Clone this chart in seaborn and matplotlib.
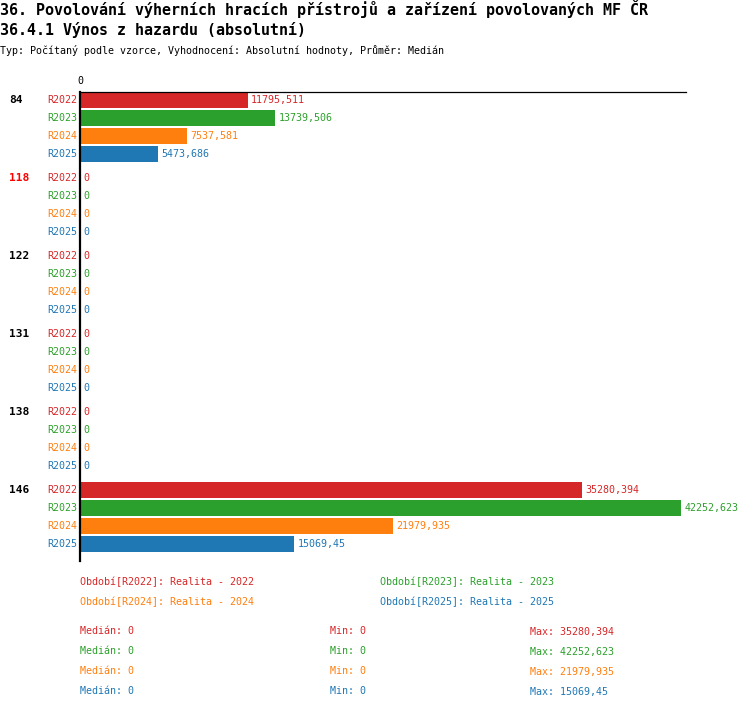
import numpy as np
import pandas as pd
import matplotlib
matplotlib.use("Agg")
import matplotlib.pyplot as plt
import matplotlib.transforms as mtransforms
import seaborn as sns

# Data
groups = ["84", "118", "122", "131", "138", "146"]
periods = ["R2022", "R2023", "R2024", "R2025"]
v_2022 = [11795.511, 0, 0, 0, 0, 35280.394]
v_2023 = [13739.506, 0, 0, 0, 0, 42252.623]
v_2024 = [7537.581, 0, 0, 0, 0, 21979.935]
v_2025 = [5473.686, 0, 0, 0, 0, 15069.45]
highlight = "118"

colors = {"R2022": "#d62728", "R2023": "#2ca02c", "R2024": "#ff7f0e", "R2025": "#1f77b4"}
legend_names = {"R2022": "Realita - 2022", "R2023": "Realita - 2023",
                "R2024": "Realita - 2024", "R2025": "Realita - 2025"}
stat_median = [0, 0, 0, 0]
stat_min = [0, 0, 0, 0]
stat_max = [35280.394, 42252.623, 21979.935, 15069.45]

series = {"R2022": v_2022, "R2023": v_2023, "R2024": v_2024, "R2025": v_2025}
df = pd.DataFrame([(g, p, series[p][i]) for p in periods for i, g in enumerate(groups)],
                  columns=["group", "period", "value"])


def fmt(v):
    s = repr(float(v))
    if s.endswith(".0"):
        s = s[:-2]
    return s.replace(".", ",")


sns.set_style("white")
plt.rcParams["font.family"] = ["DejaVu Sans Mono", "DejaVu Sans"]
plt.rcParams["text.color"] = "black"
plt.rcParams["xtick.color"] = "black"

W, H = 750, 710
fig = plt.figure(figsize=(W / 100, H / 100), dpi=100)
ax = fig.add_axes([80 / W, 1 - 560.7 / H, 606 / W, (560.7 - 92) / H])

sns.barplot(data=df, x="value", y="group", hue="period", order=groups, hue_order=periods,
            palette=colors, saturation=1, orient="h", width=72 / 78, gap=2 / 18,
            linewidth=0, errorbar=None, ax=ax)

ax.set_ylim(5.56, -0.449)
ax.set_xlim(0, max(max(v_2023), max(v_2022)) * 606 / 601)
ax.legend_.remove()
ax.set_xlabel("")
ax.set_ylabel("")
ax.set_yticks([])
ax.xaxis.tick_top()
ax.set_xticks([0])
ax.set_xticklabels(["0"])
ax.tick_params(axis="x", length=0, pad=4, labelsize=7.2, labelcolor="black")
for side in ["right", "bottom"]:
    ax.spines[side].set_visible(False)
ax.spines["top"].set_linewidth(0.9)
ax.spines["top"].set_color("black")
ax.spines["left"].set_linewidth(1.6)
ax.spines["left"].set_color("black")

# value labels and row labels
lab_tr = mtransforms.blended_transform_factory(fig.transFigure, ax.transData)
for p, cont in zip(periods, ax.containers):
    ax.bar_label(cont, labels=[fmt(v) for v in series[p]], padding=2.5,
                 color=colors[p], fontsize=7.2)
    for bar in cont:
        yc = bar.get_y() + bar.get_height() / 2
        ax.annotate(p, xy=(0, yc), xytext=(-2, 0), textcoords="offset points",
                    ha="right", va="center", color=colors[p], fontsize=7.2,
                    annotation_clip=False)

# group labels at the first row of each group
for g, bar in zip(groups, ax.containers[0]):
    yc = bar.get_y() + bar.get_height() / 2
    ax.text(9 / W, yc, g, transform=lab_tr, ha="left", va="center",
            fontsize=8, fontweight="bold",
            color="#ff0000" if g == highlight else "black")

# titles
fig.text(0, 1 - 9.5 / H, "36. Povolování výherních hracích přístrojů a zařízení povolovaných MF ČR",
         ha="left", va="center", fontsize=10.8, fontweight="bold", color="black")
fig.text(0, 1 - 30 / H, "36.4.1 Výnos z hazardu (absolutní)",
         ha="left", va="center", fontsize=10.8, fontweight="bold", color="black")
fig.text(0, 1 - 50 / H, "Typ: Počítaný podle vzorce, Vyhodnocení: Absolutní hodnoty, Průměr: Medián",
         ha="left", va="center", fontsize=7.2, color="black")

# legend block
leg_x = [80, 380, 80, 380]
leg_y = [581.5, 581.5, 601.5, 601.5]
for p, x, y in zip(periods, leg_x, leg_y):
    fig.text(x / W, 1 - y / H, f"Období[{p}]: {legend_names[p]}",
             ha="left", va="center", fontsize=7.2, color=colors[p])

# stats block
for i, p in enumerate(periods):
    y = 1 - (631.5 + 20 * i) / H
    fig.text(80 / W, y, f"Medián: {fmt(stat_median[i])}", ha="left", va="center",
             fontsize=7.2, color=colors[p])
    fig.text(330 / W, y, f"Min: {fmt(stat_min[i])}", ha="left", va="center",
             fontsize=7.2, color=colors[p])
    fig.text(530 / W, y, f"Max: {fmt(stat_max[i])}", ha="left", va="center",
             fontsize=7.2, color=colors[p])

fig.savefig("out.png", dpi=100)
plt.close(fig)
